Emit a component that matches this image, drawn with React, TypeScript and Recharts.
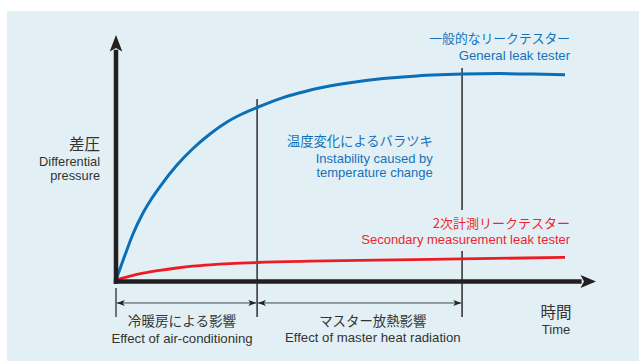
import React from "react";
import { ComposedChart, Line, XAxis, YAxis, ReferenceLine, ReferenceDot } from "recharts";

// General leak tester (blue)
const timeBlue = [0, 1.875, 3.54, 5.625, 7.5, 9.17, 12.71, 16.04, 19.58, 23.13, 26.46, 29.38, 32.08, 34.79, 38.33, 41.88, 48.75, 55.63, 62.71, 67.5, 72.08, 80.0, 86.88, 93.54];
const pressureBlue = [0.6, 10.75, 19.27, 27.79, 33.87, 38.54, 47.26, 53.96, 59.84, 64.71, 68.15, 70.59, 72.7, 74.6, 76.55, 78.3, 80.65, 82.31, 83.41, 83.85, 84.14, 84.34, 84.18, 83.85];
// Secondary measurement leak tester (red)
const timeRed = [0, 2.92, 5.63, 9.17, 12.71, 16.04, 19.58, 23.75, 29.38, 40.42, 54.38, 72.08, 93.54];
const pressureRed = [0.6, 2.15, 3.37, 4.54, 5.48, 6.21, 6.77, 7.26, 7.71, 8.24, 8.68, 9.17, 9.78];
// phase boundaries (time)
const phaseBounds = [0, 29.4, 72.1];

const blueData = timeBlue.map((t, i) => ({ t, p: pressureBlue[i] }));
const redData = timeRed.map((t, i) => ({ t, p: pressureRed[i] }));

const BLUE = "#0b6fb8";
const BLUE_TXT = "#1472ba";
const RED = "#ec1c24";
const RED_TXT = "#ee2530";
const DARK = "#231f20";
const TXT = "#333333";
const LAT = "'Liberation Sans', Arial, Helvetica, sans-serif";
const JP = "'Noto Sans CJK JP', sans-serif";

type TL = { text: string; dy: number; size: number; font: string };

const textBlock = (lines: TL[], color: string, anchor: "start" | "middle" | "end") => (p: any) => (
  <g>
    {lines.map((l, i) => (
      <text
        key={i}
        x={p.cx}
        y={p.cy + l.dy}
        fill={color}
        fontSize={l.size}
        fontFamily={l.font}
        textAnchor={anchor}
      >
        {l.text}
      </text>
    ))}
  </g>
);

const dimArrow = (p: any) => {
  const { x1, y1, x2 } = p;
  const a = 8;
  const h = 3;
  const l = x1 + 0.8;
  const r = x2 - 0.8;
  return (
    <g>
      <line x1={l} y1={y1} x2={r} y2={y1} stroke="#444" strokeWidth={1} />
      <polygon points={`${l},${y1} ${l + a},${y1 - h} ${l + a - 2},${y1} ${l + a},${y1 + h}`} fill="#222" />
      <polygon points={`${r},${y1} ${r - a},${y1 - h} ${r - a + 2},${y1} ${r - a},${y1 + h}`} fill="#222" />
    </g>
  );
};

const upArrow = (p: any) => (
  <polygon
    points={`${p.cx},${p.cy} ${p.cx + 6.3},${p.cy + 16.5} ${p.cx},${p.cy + 13} ${p.cx - 6.3},${p.cy + 16.5}`}
    fill={DARK}
  />
);
const rightArrow = (p: any) => (
  <polygon
    points={`${p.cx},${p.cy} ${p.cx - 15.5},${p.cy - 6.5} ${p.cx - 12},${p.cy} ${p.cx - 15.5},${p.cy + 6.5}`}
    fill={DARK}
  />
);

export default function App() {
  return (
    <div style={{ position: "absolute", left: 0, top: 0, width: 639, height: 361, background: "#ffffff" }}>
      <div style={{ position: "absolute", left: 7, top: 11, width: 632, height: 350, background: "#e2f0f5" }} />
      <div style={{ position: "absolute", left: 0, top: 0 }}>
        <ComposedChart width={639} height={361} margin={{ top: 35, right: 43, bottom: 42.5, left: 116 }}>
          <XAxis type="number" dataKey="t" domain={[0, 100]} allowDataOverflow hide />
          <YAxis type="number" domain={[-15, 100]} allowDataOverflow hide />

          {/* phase boundary lines */}
          <ReferenceLine segment={[{ x: phaseBounds[1], y: 74 }, { x: phaseBounds[1], y: -14.4 }]} stroke="#3a3a3a" strokeWidth={1.6} ifOverflow="visible" />
          <ReferenceLine segment={[{ x: phaseBounds[2], y: 86.6 }, { x: phaseBounds[2], y: 29 }]} stroke="#3a3a3a" strokeWidth={1.6} ifOverflow="visible" />
          <ReferenceLine segment={[{ x: phaseBounds[2], y: 12.4 }, { x: phaseBounds[2], y: -14.4 }]} stroke="#3a3a3a" strokeWidth={1.6} ifOverflow="visible" />
          <ReferenceLine segment={[{ x: phaseBounds[0], y: -2.6 }, { x: phaseBounds[0], y: -14.4 }]} stroke="#3a3a3a" strokeWidth={1.4} ifOverflow="visible" />

          {/* dimension arrows */}
          <ReferenceLine segment={[{ x: phaseBounds[0], y: -8.7 }, { x: phaseBounds[1], y: -8.7 }]} shape={dimArrow} ifOverflow="visible" />
          <ReferenceLine segment={[{ x: phaseBounds[1], y: -8.7 }, { x: phaseBounds[2], y: -8.7 }]} shape={dimArrow} ifOverflow="visible" />

          <Line data={redData} dataKey="p" type="monotone" stroke={RED} strokeWidth={2.8} dot={false} activeDot={false} isAnimationActive={false} />
          <Line data={blueData} dataKey="p" type="monotone" stroke={BLUE} strokeWidth={3} dot={false} activeDot={false} isAnimationActive={false} />

          {/* axes */}
          <ReferenceLine segment={[{ x: -0.47, y: 0 }, { x: 97, y: 0 }]} stroke={DARK} strokeWidth={4.5} ifOverflow="visible" />
          <ReferenceLine segment={[{ x: 0, y: -0.92 }, { x: 0, y: 94 }]} stroke={DARK} strokeWidth={4.5} ifOverflow="visible" />
          <ReferenceDot x={0} y={100} r={0} shape={upArrow} ifOverflow="visible" />
          <ReferenceDot x={100} y={0} r={0} shape={rightArrow} ifOverflow="visible" />

          {/* texts */}
          <ReferenceDot x={-3.33} y={53.5} r={0} ifOverflow="visible" shape={textBlock([
            { text: "差圧", dy: 0, size: 15.5, font: JP },
            { text: "Differential", dy: 16, size: 12.8, font: LAT },
            { text: "pressure", dy: 30, size: 12.8, font: LAT },
          ], TXT, "end")} />
          <ReferenceDot x={94.6} y={96.6} r={0} ifOverflow="visible" shape={textBlock([
            { text: "一般的なリークテスター", dy: 0, size: 12.8, font: JP },
            { text: "General leak tester", dy: 16.5, size: 13.2, font: LAT },
          ], BLUE_TXT, "end")} />
          <ReferenceDot x={66.0} y={54.8} r={0} ifOverflow="visible" shape={textBlock([
            { text: "温度変化によるバラツキ", dy: 0, size: 13.3, font: JP },
            { text: "Instability caused by", dy: 16.5, size: 13, font: LAT },
            { text: "temperature change", dy: 30.5, size: 13, font: LAT },
          ], BLUE_TXT, "end")} />
          <ReferenceDot x={94.6} y={21.8} r={0} ifOverflow="visible" shape={textBlock([
            { text: "2次計測リークテスター", dy: 0, size: 13, font: JP },
            { text: "Secondary measurement leak tester", dy: 16.5, size: 13, font: LAT },
          ], RED_TXT, "end")} />
          <ReferenceDot x={13.75} y={-18.0} r={0} ifOverflow="visible" shape={textBlock([
            { text: "冷暖房による影響", dy: 0, size: 13.6, font: JP },
            { text: "Effect of air-conditioning", dy: 16.7, size: 13.2, font: LAT },
          ], TXT, "middle")} />
          <ReferenceDot x={53.5} y={-18.0} r={0} ifOverflow="visible" shape={textBlock([
            { text: "マスター放熱影響", dy: 0, size: 13.4, font: JP },
            { text: "Effect of master heat radiation", dy: 16.2, size: 13.2, font: LAT },
          ], TXT, "middle")} />
          <ReferenceDot x={91.67} y={-14.9} r={0} ifOverflow="visible" shape={textBlock([
            { text: "時間", dy: 0, size: 15.5, font: JP },
            { text: "Time", dy: 15.7, size: 13, font: LAT },
          ], TXT, "middle")} />
        </ComposedChart>
      </div>
    </div>
  );
}
